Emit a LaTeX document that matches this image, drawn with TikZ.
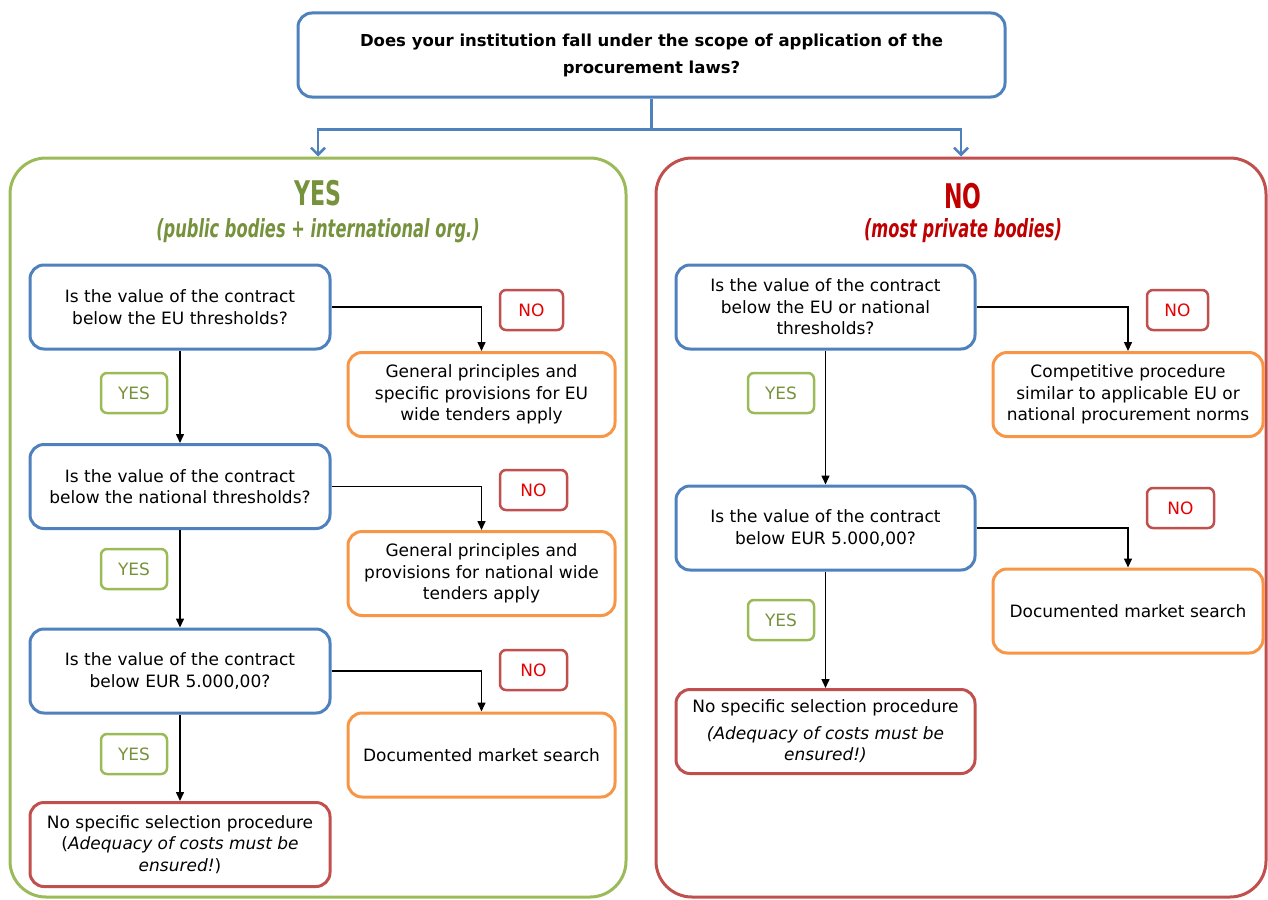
\documentclass[tikz,border=0pt]{standalone}
\usepackage{fontspec}
\setmainfont{DejaVu Sans}
\newfontfamily\headfont{DejaVu Sans}[FakeStretch=0.65]
\usetikzlibrary{arrows.meta}
\definecolor{qblue}{RGB}{79,129,189}
\definecolor{oorange}{RGB}{247,150,70}
\definecolor{rred}{RGB}{192,80,77}
\definecolor{ggreen}{RGB}{155,187,89}
\definecolor{titlegreen}{RGB}{118,146,60}
\definecolor{titlered}{RGB}{192,0,0}
\definecolor{nored}{RGB}{230,0,0}

\begin{document}
\begin{tikzpicture}[x=1pt, y=-1pt,
            every node/.style={font=\fontsize{17}{21.5}\selectfont},
            box/.style={draw, line width=3pt, rounded corners=14pt, fill=white, align=center, inner sep=2pt, minimum height=84pt},
            question/.style={box, draw=qblue, minimum width=300pt},
            outcome/.style={box, draw=oorange, minimum width=267pt},
            result/.style={box, draw=rred, minimum width=300pt},
            badge/.style={line width=2.5pt, rounded corners=6pt, minimum height=40pt, inner sep=2pt},
            nobadge/.style={badge, draw=rred, text=nored, minimum width=63pt},
            yesbadge/.style={badge, draw=ggreen, text=titlegreen, minimum width=66pt},
            area/.style={draw, line width=3pt, rounded corners=36pt, minimum height=739pt},
            flow/.style={-{Triangle[length=9pt, width=8pt]}, line width=1.5pt},
            split/.style={-{Straight Barb[length=7pt, width=14pt]}, draw=qblue, line width=2.5pt}]
            \useasboundingbox (0,0) rectangle (1268,899);
            \node[area, draw=ggreen, minimum width=616pt] (yesarea) at (318,527.5) {};
            \node[area, draw=rred, minimum width=610pt] (noarea) at (961,527.5) {};
            \node[box, draw=qblue, minimum width=707pt, font=\fontsize{16.5}{27}\selectfont\bfseries] (top) at (651.5,55)
                {Does your institution fall under the scope of application of the\\procurement laws?};
            \draw[qblue, line width=2.5pt] (top.south) -- ++(0,31) coordinate (fork);
            \draw[split] (fork) -| (yesarea.north);
            \draw[split] (fork) -| (noarea.north);

            \node[text=titlegreen, font=\headfont\fontsize{34}{34}\selectfont\bfseries] (yestitle) at (318,193) {YES};
            \node[text=titlegreen, font=\headfont\fontsize{25}{25}\selectfont\bfseries\itshape] (yessub) at (318,231) {(public bodies + international org.)};
            \node[text=titlered, font=\headfont\fontsize{34}{34}\selectfont\bfseries] (notitle) at (963,196) {NO};
            \node[text=titlered, font=\headfont\fontsize{25}{25}\selectfont\bfseries\itshape] (nosub) at (963,231) {(most private bodies)};

            \node[question] (lq1) at (180,307) {Is the value of the contract\\below the EU thresholds?};
            \node[outcome] (lo1) at (481.5,394.5) {General principles and\\specific provisions for EU\\wide tenders apply};
            \node[nobadge] (ln1) at (531.5,310) {NO};
            \node[yesbadge] (ly1) at (134,393) {YES};
            \node[question] (lq2) at (180,486.5) {Is the value of the contract\\below the national thresholds?};
            \node[outcome] (lo2) at (481.5,573.5) {General principles and\\provisions for national wide\\tenders apply};
            \node[nobadge, minimum width=67pt] (ln2) at (533.5,490) {NO};
            \node[yesbadge] (ly2) at (134,569) {YES};
            \node[question] (lq3) at (180,671) {Is the value of the contract\\below EUR 5.000,00?};
            \node[outcome] (lo3) at (481.5,755) {Documented market search};
            \node[nobadge, minimum width=67pt] (ln3) at (533.5,670) {NO};
            \node[yesbadge] (ly3) at (134,754) {YES};
            \node[result] (lr) at (180,844.5) {No specific selection procedure\\(\textit{Adequacy of costs must be}\\\textit{ensured!})};

            \node[question, minimum width=299pt] (rq1) at (825.5,307) {Is the value of the contract\\below the EU or national\\thresholds?};
            \node[outcome, minimum width=270pt] (ro1) at (1128,394.5) {Competitive procedure\\similar to applicable EU or\\national procurement norms};
            \node[nobadge, minimum width=61pt] (rn1) at (1177.5,310) {NO};
            \node[yesbadge] (ry1) at (781,393) {YES};
            \node[question, minimum width=299pt] (rq2) at (825.5,528) {Is the value of the contract\\below EUR 5.000,00?};
            \node[outcome, minimum width=270pt] (ro2) at (1128,611) {Documented market search};
            \node[nobadge, minimum width=67pt] (rn2) at (1180.5,508) {NO};
            \node[yesbadge] (ry2) at (781,620) {YES};
            \node[result, minimum width=299pt] (rr) at (825.5,731.5) {No specific selection procedure\\[5pt]\textit{(Adequacy of costs must be}\\\textit{ensured!)}};

            \draw[flow] (lq1.east) -| (lo1.north);
            \draw[flow] (lq1.south) -- (lq2.north);
            \draw[flow] (lq2.east) -| (lo2.north);
            \draw[flow] (lq2.south) -- (lq3.north);
            \draw[flow] (lq3.east) -| (lo3.north);
            \draw[flow] (lq3.south) -- (lr.north);
            \draw[flow] (rq1.east) -| (ro1.north);
            \draw[flow] (rq1.south) -- (rq2.north);
            \draw[flow] (rq2.east) -| (ro2.north);
            \draw[flow] (rq2.south) -- (rr.north);
        \end{tikzpicture}
\end{document}
